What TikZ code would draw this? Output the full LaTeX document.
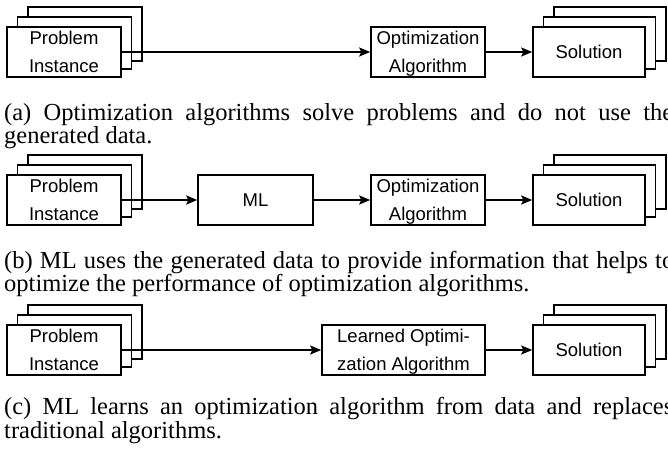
\documentclass[tikz,border=0pt]{standalone}
\usepackage{fontspec}
\setmainfont{Liberation Serif}
\newfontfamily\boxfont{Liberation Sans}
\usetikzlibrary{arrows.meta}
\newcommand{\lnph}{\vphantom{Ag}}
\tikzset{
  blk/.style={draw, line width=1.6pt, fill=white, inner sep=0pt, align=center,
    font=\boxfont\fontsize{18.5}{28.5}\selectfont},
  twoline/.style={yshift=-1.5pt},
  stackbox/.style={draw, line width=1.6pt, fill=white},
  conn/.style={line width=1.6pt, -{Stealth[length=11pt,width=9pt,inset=2pt]}},
  capfont/.style={font=\fontsize{24.5}{24}\selectfont, inner sep=0pt, anchor=base west}
}
\newcommand{\stackbehind}[1]{%
  \draw[stackbox] ([shift={(21,-16)}]#1.south west) rectangle ([shift={(21,-20)}]#1.north east);
  \draw[stackbox] ([shift={(10.5,-8)}]#1.south west) rectangle ([shift={(10.5,-10)}]#1.north east);
}
\begin{document}
\begin{tikzpicture}[x=1pt,y=-1pt]
\useasboundingbox (0,0) rectangle (668,451);
\clip (0,0) rectangle (668,451);
\fill[white] (0,0) rectangle (668,451);
% ---------- row (a)
\path (64,52) coordinate (pa0) +(-57,-25) coordinate (pa0sw) +(57,25) coordinate (pa0ne);
\draw[stackbox] ([shift={(21,-20)}]pa0sw) rectangle ([shift={(21,-16)}]pa0ne);
\draw[stackbox] ([shift={(10.5,-10)}]pa0sw) rectangle ([shift={(10.5,-8)}]pa0ne);
\node[blk, minimum width=114, minimum height=50] (pa) at (pa0) {};
\node[blk, draw=none, fill=none, twoline] (pat) at (pa0) {Problem\lnph\\Instance\lnph};
\node[blk, minimum width=114, minimum height=50] (oa) at (428,52) {};
\node[blk, draw=none, fill=none, twoline] (oat) at (oa) {Optimization\lnph\\Algorithm\lnph};
\path (589,52) coordinate (sa0) +(-56,-25) coordinate (sa0sw) +(56,25) coordinate (sa0ne);
\draw[stackbox] ([shift={(21,-20)}]sa0sw) rectangle ([shift={(21,-16)}]sa0ne);
\draw[stackbox] ([shift={(10.5,-10)}]sa0sw) rectangle ([shift={(10.5,-8)}]sa0ne);
\node[blk, minimum width=112, minimum height=50] (sa) at (sa0) {Solution};
\draw[conn] (pa.east) -- (oa.west);
\draw[conn] (oa.east) -- (sa.west);
\node[capfont] (capa1) at (4,120) {\makebox[669pt][s]{(a) Optimization algorithms solve problems and do not use the}};
\node[capfont] (capa2) at (4,143) {generated data.};
% ---------- row (b)
\path (64,200) coordinate (pb0) +(-57,-25) coordinate (pb0sw) +(57,25) coordinate (pb0ne);
\draw[stackbox] ([shift={(21,-20)}]pb0sw) rectangle ([shift={(21,-16)}]pb0ne);
\draw[stackbox] ([shift={(10.5,-10)}]pb0sw) rectangle ([shift={(10.5,-8)}]pb0ne);
\node[blk, minimum width=114, minimum height=50] (pb) at (pb0) {};
\node[blk, draw=none, fill=none, twoline] (pbt) at (pb0) {Problem\lnph\\Instance\lnph};
\node[blk, minimum width=115, minimum height=50] (ml) at (255.5,200) {ML};
\node[blk, minimum width=114, minimum height=50] (ob) at (428,200) {};
\node[blk, draw=none, fill=none, twoline] (obt) at (ob) {Optimization\lnph\\Algorithm\lnph};
\path (589,200) coordinate (sb0) +(-56,-25) coordinate (sb0sw) +(56,25) coordinate (sb0ne);
\draw[stackbox] ([shift={(21,-20)}]sb0sw) rectangle ([shift={(21,-16)}]sb0ne);
\draw[stackbox] ([shift={(10.5,-10)}]sb0sw) rectangle ([shift={(10.5,-8)}]sb0ne);
\node[blk, minimum width=112, minimum height=50] (sb) at (sb0) {Solution};
\draw[conn] (pb.east) -- (ml.west);
\draw[conn] (ml.east) -- (ob.west);
\draw[conn] (ob.east) -- (sb.west);
\node[capfont] (capb1) at (4,268) {\makebox[670pt][s]{(b) ML uses the generated data to provide information that helps to}};
\node[capfont] (capb2) at (4,291) {optimize the performance of optimization algorithms.};
% ---------- row (c)
\path (64,350) coordinate (pc0) +(-57,-25) coordinate (pc0sw) +(57,25) coordinate (pc0ne);
\draw[stackbox] ([shift={(21,-20)}]pc0sw) rectangle ([shift={(21,-16)}]pc0ne);
\draw[stackbox] ([shift={(10.5,-10)}]pc0sw) rectangle ([shift={(10.5,-8)}]pc0ne);
\node[blk, minimum width=114, minimum height=50] (pc) at (pc0) {};
\node[blk, draw=none, fill=none, twoline] (pct) at (pc0) {Problem\lnph\\Instance\lnph};
\node[blk, minimum width=163, minimum height=50] (lc) at (403.5,350) {};
\node[blk, draw=none, fill=none, twoline] (lct) at (lc) {Learned Optimi-\lnph\\zation Algorithm\lnph};
\path (589,350) coordinate (sc0) +(-56,-25) coordinate (sc0sw) +(56,25) coordinate (sc0ne);
\draw[stackbox] ([shift={(21,-20)}]sc0sw) rectangle ([shift={(21,-16)}]sc0ne);
\draw[stackbox] ([shift={(10.5,-10)}]sc0sw) rectangle ([shift={(10.5,-8)}]sc0ne);
\node[blk, minimum width=112, minimum height=50] (sc) at (sc0) {Solution};
\draw[conn] (pc.east) -- (lc.west);
\draw[conn] (lc.east) -- (sc.west);
\node[capfont] (capc1) at (4,414) {\makebox[669pt][s]{(c) ML learns an optimization algorithm from data and replaces}};
\node[capfont] (capc2) at (4,438) {traditional algorithms.};
\end{tikzpicture}
\end{document}
